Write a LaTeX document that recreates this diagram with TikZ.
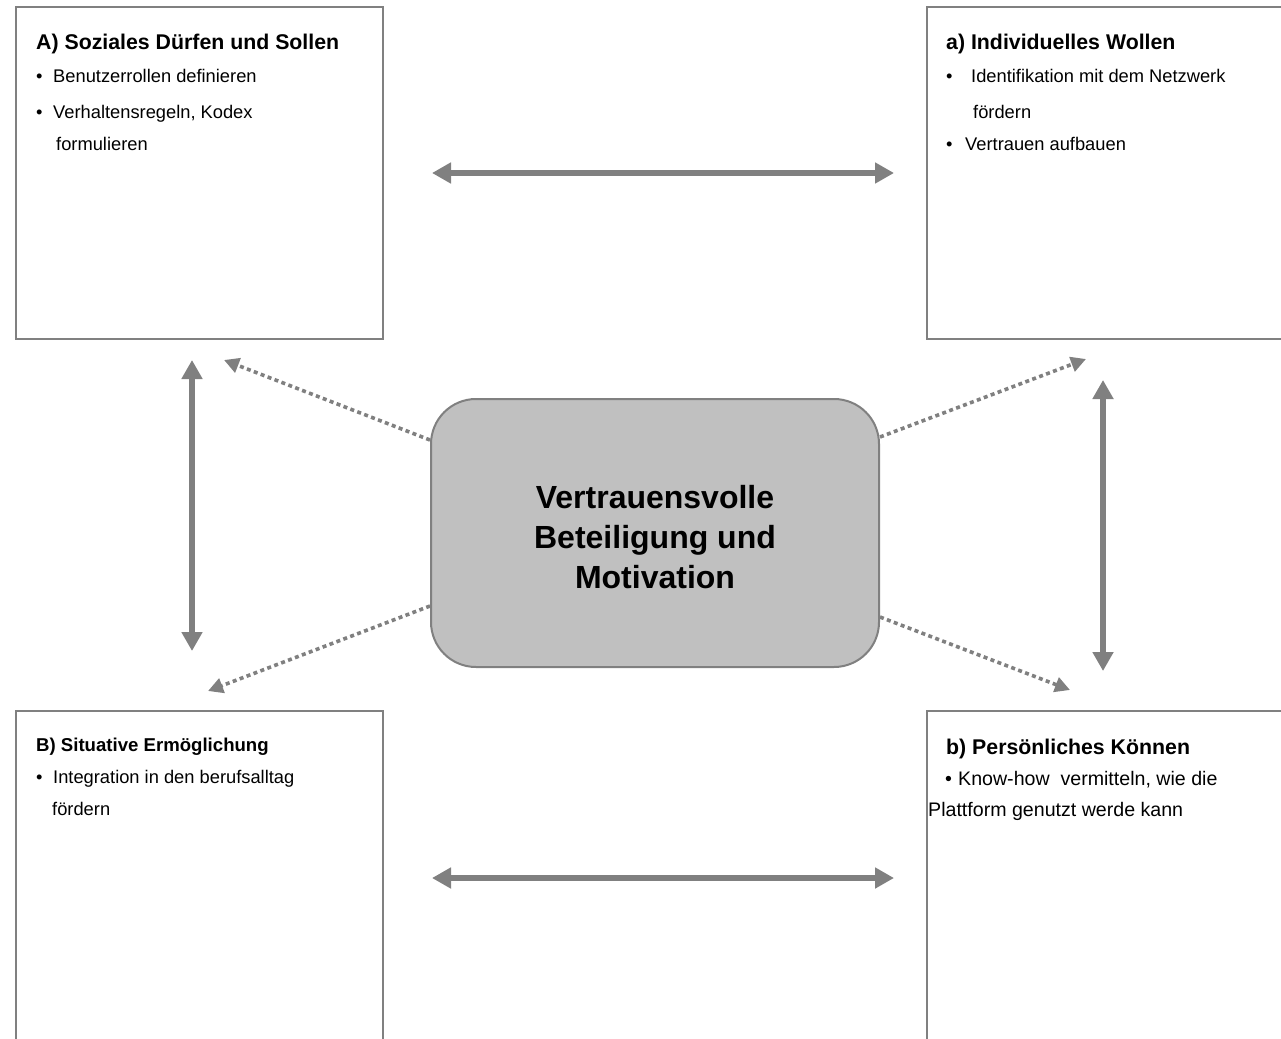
\documentclass[tikz,border=0pt]{standalone}
\usepackage{fontspec}
\setmainfont{Liberation Sans}
\usetikzlibrary{arrows.meta}
\definecolor{lgray}{HTML}{808080}
\definecolor{cfill}{HTML}{C0C0C0}
\tikzset{
  panel/.style={draw=lgray, line width=1.3pt, fill=white, rectangle, inner sep=0pt},
  hub/.style={draw=lgray, line width=2pt, fill=cfill, rounded corners=45pt, inner sep=0pt,
    minimum width=448pt, minimum height=268pt},
  ttl/.style={anchor=base west, inner sep=0pt, font=\fontsize{21.3}{24}\selectfont\bfseries},
  ttlsmall/.style={anchor=base west, inner sep=0pt, font=\fontsize{18.6}{22}\selectfont\bfseries},
  txt/.style={anchor=base west, inner sep=0pt, font=\fontsize{18.3}{22}\selectfont},
  txtbig/.style={anchor=base west, inner sep=0pt, font=\fontsize{19.6}{23}\selectfont},
  thick arrow/.style={draw=lgray, line width=6pt, {Triangle[length=19pt,width=20pt]}-{Triangle[length=19pt,width=20pt]}},
  dot arrow/.style={draw=lgray, line width=3.6pt, dash pattern=on 4pt off 3.4pt,
    -{Triangle[length=15pt,width=15pt]}},
}
\begin{document}
\begin{tikzpicture}[x=1pt,y=-1pt]
\clip (0,0) rectangle (1281,1038);
\useasboundingbox (0,0) rectangle (1281,1038);
\fill[white] (0,0) rectangle (1281,1038);

% panels
\node[panel, minimum width=367pt, minimum height=332pt] (A) at (199.5,173) {};
\node[panel, minimum width=373pt, minimum height=332pt] (a) at (1113.5,173) {};
\node[panel, minimum width=367pt, minimum height=350pt] (B) at (199.5,886) {};
\node[panel, minimum width=373pt, minimum height=350pt] (b) at (1113.5,886) {};

% center
\node[hub] (hub) at (655,533) {};
\node[inner sep=0pt, align=center, font=\fontsize{32}{40}\selectfont\bfseries] (hubtxt) at (655,537)
  {Vertrauensvolle\\Beteiligung und\\Motivation};

% texts A
\node[ttl] (At) at (36,50) {A) Soziales Dürfen und Sollen};
\node[txt] (Ab1) at (36,83) {•};
\node[txt] (Al1) at (53,83) {Benutzerrollen definieren};
\node[txt] (Ab2) at (36,118) {•};
\node[txt] (Al2) at (53,118) {Verhaltensregeln, Kodex};
\node[txt] (Al3) at (56,150) {formulieren};

% texts a
\node[ttl] (at) at (946,50) {a) Individuelles Wollen};
\node[txt] (ab1) at (946,83) {•};
\node[txt] (al1) at (971,83) {Identifikation mit dem Netzwerk};
\node[txt] (al2) at (973,118) {fördern};
\node[txt] (ab2) at (946,150) {•};
\node[txt] (al3) at (965,150) {Vertrauen aufbauen};

% texts B
\node[ttlsmall] (Bt) at (36,751) {B) Situative Ermöglichung};
\node[txt] (Bb1) at (36,783) {•};
\node[txt] (Bl1) at (53,783) {Integration in den berufsalltag};
\node[txt] (Bl2) at (52,815) {fördern};

% texts b
\node[ttl] (bt) at (946,754) {b) Persönliches Können};
\node[txtbig] (bb1) at (945,785) {•};
\node[txtbig] (bl1) at (958,785) {Know-how\ \ vermitteln, wie die};
\node[txtbig] (bl2) at (928,816) {Plattform genutzt werde kann};

% arrow end coordinates
\coordinate (h1l) at (432,173);
\coordinate (h1r) at (894,173);
\coordinate (h2l) at (432,878);
\coordinate (h2r) at (894,878);
\coordinate (v1t) at (192,360);
\coordinate (v1b) at (192,651);
\coordinate (v2t) at (1103,380);
\coordinate (v2b) at (1103,671);
\coordinate (dA) at (224,360);
\coordinate (da) at (1086,359);
\coordinate (dB) at (208,691);
\coordinate (db) at (1070,690);

\draw[thick arrow] (h1l) -- (h1r);
\draw[thick arrow] (h2l) -- (h2r);
\draw[thick arrow] (v1t) -- (v1b);
\draw[thick arrow] (v2t) -- (v2b);

\draw[dot arrow] (hub.west |- 0,440) -- (dA);
\draw[dot arrow] (hub.east |- 0,437) -- (da);
\draw[dot arrow] (hub.west |- 0,606) -- (dB);
\draw[dot arrow] (hub.east |- 0,617) -- (db);
\end{tikzpicture}
\end{document}
